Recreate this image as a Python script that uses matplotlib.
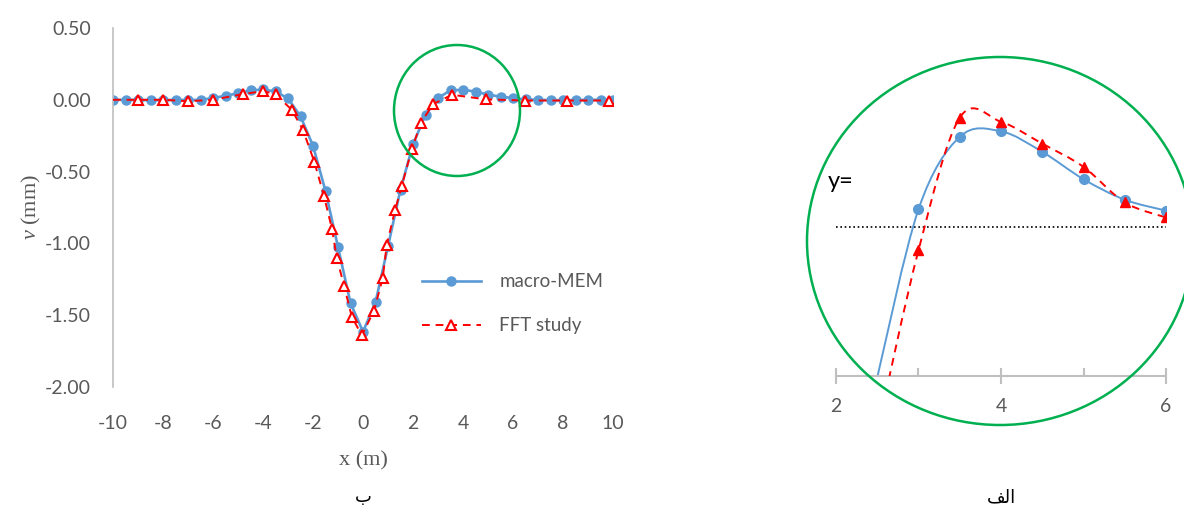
import numpy as np
import matplotlib
matplotlib.use('Agg')
import matplotlib.pyplot as plt
from matplotlib.patches import Ellipse, PathPatch
from matplotlib.path import Path
from matplotlib.ticker import FuncFormatter

plt.rcParams['axes.unicode_minus'] = False
plt.rcParams['mathtext.fontset'] = 'custom'
plt.rcParams['mathtext.it'] = 'Liberation Serif:italic'
plt.rcParams['mathtext.rm'] = 'Liberation Serif'

# panel (b): full profile
mem_x = np.arange(-10, 10.01, 0.5)
mem_v = [0.0, 0.0, -0.002, -0.003, -0.002, 0.0, -0.002, 0.0, 0.012, 0.028,
         0.045, 0.065, 0.072, 0.058, 0.010, -0.115, -0.32, -0.635, -1.025, -1.415,
         -1.615, -1.41, -1.02, -0.625, -0.31, -0.105, 0.013, 0.066, 0.070, 0.057,
         0.036, 0.022, 0.012, 0.003, 0.0, -0.002, -0.003, -0.002, 0.0, 0.0, 0.0]

fft_x = [-10, -9, -8, -7, -6, -4.8, -4.0, -3.5, -2.85, -2.4, -1.95, -1.56, -1.24,
         -1.05, -0.75, -0.45, -0.05, 0.44, 0.79, 0.95, 1.28, 1.55, 1.96, 2.32, 2.8,
         3.56, 4.92, 6.48, 8.16, 9.84]
fft_v = [0.0, 0.0, 0.0, -0.01, 0.0, 0.04, 0.06, 0.04, -0.07, -0.21, -0.43, -0.67,
         -0.90, -1.10, -1.30, -1.51, -1.64, -1.47, -1.24, -1.01, -0.77, -0.60, -0.34,
         -0.16, -0.03, 0.035, 0.003, -0.005, -0.005, -0.005]

# panel (a): zoomed detail
zoom_x = [2.5, 3.0, 3.5, 4.0, 4.5, 5.0, 5.5, 6.0]
zoom_mem = [-0.11, 0.013, 0.066, 0.070, 0.055, 0.035, 0.020, 0.012]
zoom_fft = [-0.15, -0.017, 0.080, 0.077, 0.061, 0.044, 0.018, 0.007]

BLUE = '#5B9BD5'
RED = '#FF0000'
GREEN = '#00B050'
GREY_TXT = '#595959'
GREY_AX = '#BFBFBF'
TICK_FONT = 'Lato'
TICK_SIZE = 14

W, H = 1184, 513


def smooth_path(x, y):
    # catmull-rom through the points, as bezier segments
    p = np.column_stack([x, y]).astype(float)
    ext = np.vstack([p[0], p, p[-1]])
    verts = [p[0]]
    codes = [Path.MOVETO]
    for i in range(1, len(ext) - 2):
        c1 = ext[i] + (ext[i + 1] - ext[i - 1]) / 6
        c2 = ext[i + 1] - (ext[i + 2] - ext[i]) / 6
        verts += [c1, c2, ext[i + 1]]
        codes += [Path.CURVE4] * 3
    return Path(verts, codes)


fig = plt.figure(figsize=(W / 100, H / 100), dpi=100)

# ---- left panel
ax1 = fig.add_axes([113 / W, (H - 387) / H, 500 / W, 359 / H])
ax1.plot(mem_x, mem_v, '-o', color=BLUE, lw=1.9, ms=6.5, label='macro-MEM', zorder=2)
ax1.plot(fft_x, fft_v, '--^', color=RED, lw=1.4, ms=6.5, mfc='white', mec=RED,
         mew=1.5, dashes=(4, 3), markevery=slice(1, None), label='FFT study', zorder=3)
ax1.set_xlim(-10, 10)
ax1.set_ylim(-2.0, 0.5)
ax1.set_xticks(np.arange(-10, 11, 2))
ax1.set_yticks(np.arange(-2.0, 0.51, 0.5))
ax1.xaxis.set_major_formatter(FuncFormatter(lambda v, p: f'{int(round(v))}'))
ax1.yaxis.set_major_formatter(FuncFormatter(lambda v, p: f'{v:.2f}'))
ax1.tick_params(axis='x', length=0, pad=20, labelsize=TICK_SIZE, labelcolor=GREY_TXT)
ax1.tick_params(axis='y', length=0, pad=16, labelsize=TICK_SIZE, labelcolor=GREY_TXT)
for t in ax1.get_xticklabels() + ax1.get_yticklabels():
    t.set_fontfamily(TICK_FONT)
for s in ['top', 'right', 'bottom']:
    ax1.spines[s].set_visible(False)
ax1.spines['left'].set_color(GREY_AX)
ax1.spines['left'].set_linewidth(1.2)
ax1.set_xlabel('x (m)', family='Liberation Serif', fontsize=16, color=GREY_TXT, labelpad=14)
ax1.set_ylabel('$v$ (mm)', family='Liberation Serif', fontsize=16, color=GREY_TXT,
               labelpad=1)

leg = ax1.legend(loc='center left', bbox_to_anchor=(0.60, 0.232), frameon=False,
                 handlelength=3.1, handletextpad=1.0, labelspacing=1.45, borderpad=0,
                 numpoints=1, prop={'family': TICK_FONT, 'size': 13.5})
for t in leg.get_texts():
    t.set_color(GREY_TXT)

fig.text(363 / W, 1 - 497 / H, '\u0628', ha='center', va='center',
         family='DejaVu Sans', fontsize=13)

# ---- right panel
ax2 = fig.add_axes([836 / W, (H - 376) / H, 330 / W, 328 / H])
ax2.set_xlim(2, 6)
ax2.set_ylim(-0.109, 0.131)
ax2.axhline(0, color='black', ls=(0, (1, 1.6)), lw=1.2, zorder=1)
ax2.add_patch(PathPatch(smooth_path(zoom_x, zoom_mem), fill=False, ec=BLUE, lw=1.4, zorder=2))
ax2.add_patch(PathPatch(smooth_path(zoom_x, zoom_fft), fill=False, ec=RED, lw=1.4,
                        ls=(0, (4, 3)), zorder=3))
ax2.plot(zoom_x[1:], zoom_mem[1:], 'o', color=BLUE, ms=7, zorder=4)
ax2.plot(zoom_x[1:], zoom_fft[1:], '^', color=RED, ms=7, zorder=5)
for s in ['top', 'right', 'left']:
    ax2.spines[s].set_visible(False)
ax2.spines['bottom'].set_color(GREY_AX)
ax2.spines['bottom'].set_linewidth(1.5)
ax2.set_yticks([])
ax2.set_xticks([2, 4, 6])
ax2.set_xticks([3, 5], minor=True)
ax2.tick_params(axis='x', which='major', direction='inout', length=11, width=1.5,
                color=GREY_AX, pad=10, labelsize=TICK_SIZE, labelcolor=GREY_TXT)
ax2.tick_params(axis='x', which='minor', direction='in', length=6, width=1.5, color=GREY_AX)
for t in ax2.get_xticklabels():
    t.set_fontfamily(TICK_FONT)

fig.text(828 / W, 1 - 181 / H, 'y=', ha='left', va='center', family=TICK_FONT,
         fontsize=17, color='black')
fig.text(1001 / W, 1 - 497 / H, '\ufed2\ufedf\u0627', ha='center', va='center',
         family='DejaVu Sans', fontsize=13)

# green highlight circles
fig.add_artist(Ellipse((457 / W, 1 - 110.5 / H), 126 / W, 131 / H, transform=fig.transFigure,
                       fill=False, ec=GREEN, lw=1.8, zorder=10))
fig.add_artist(Ellipse((1000 / W, 1 - 241 / H), 386 / W, 368 / H, transform=fig.transFigure,
                       fill=False, ec=GREEN, lw=1.8, zorder=10))

fig.savefig('out.png', dpi=100)
